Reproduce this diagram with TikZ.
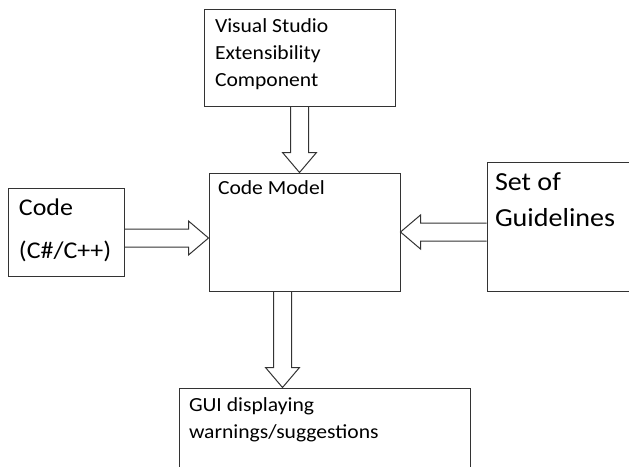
\documentclass[tikz,border=0pt]{standalone}
\usepackage{fontspec}
\setmainfont{Carlito}[FakeStretch=1.08]
\usetikzlibrary{positioning,calc}

\begin{document}
\begin{tikzpicture}
[x=1pt, y=-1pt, line width=1pt,
% STYLES
% The block style is used for the boxes of the tool
block/.style={rectangle, draw=black!80, inner sep=0pt},
% The txt style is used for the text at the top left of a block (placed by its last baseline)
txt/.style={anchor=base west, inner sep=0pt, align=left, font=\fontsize{20}{27}\selectfont},
% The hollow style draws the wide open arrows between blocks
hollow/.style={draw=black!80, to path={
  ($(\tikztostart)!9pt!90:(\tikztotarget)$)
  -- ($(\tikztotarget)!20pt!(\tikztostart)!9pt!90:(\tikztotarget)$)
  -- ($(\tikztotarget)!20pt!(\tikztostart)!17pt!90:(\tikztotarget)$)
  -- (\tikztotarget)
  -- ($(\tikztotarget)!20pt!(\tikztostart)!17pt!-90:(\tikztotarget)$)
  -- ($(\tikztotarget)!20pt!(\tikztostart)!9pt!-90:(\tikztotarget)$)
  -- ($(\tikztostart)!9pt!-90:(\tikztotarget)$)}}]

\useasboundingbox (0,0) rectangle (629,466);
\clip (0,0) rectangle (629,466);

% Draw blocks
\node [block, minimum width=191pt, minimum height=118pt] (model) at (304.5,232) {};
\node [block, minimum width=191pt, minimum height=97pt, above=66pt of model, xshift=-5pt] (vs) {};
\node [block, minimum width=116pt, minimum height=88pt, left=84pt of model] (code) {};
\node [block, minimum width=160pt, minimum height=129pt, right=86pt of model.south east, anchor=south west] (rules) {};
\node [block, minimum width=291pt, minimum height=110pt, below=96pt of model, xshift=20pt] (gui) {};

%%%%%%%%%%%%%%%
% Texts of the blocks
\node [txt] (vs-txt) at ([shift={(11pt,-78pt)}]vs.north west) {Visual Studio\\Extensibility\\Component};
\node [txt] (model-txt) at ([shift={(9pt,-22pt)}]model.north west) {Code Model};
\node [txt, font=\fontsize{24}{43}\selectfont] (code-txt) at ([shift={(11pt,-71pt)}]code.north west) {Code\\(C\#/C++)};
\node [txt, font=\fontsize{26}{36}\selectfont] (rules-txt) at ([shift={(8pt,-65pt)}]rules.north west) {Set of\\Guidelines};
\node [txt] (gui-txt) at ([shift={(10pt,-51pt)}]gui.north west) {GUI displaying\\warnings/suggestions};
%%%%%%%%%%%%%%%

% Draw the links between blocks
\path [hollow]
(vs.south) to (vs.south |- model.north)
([yshift=-6pt]code.east) to ([yshift=-6pt]code.east -| model.west)
(model.east -| rules.west) to (model.east)
([xshift=-22pt]model.south) to ([xshift=-22pt]model.south |- gui.north);

\end{tikzpicture}
\end{document}
